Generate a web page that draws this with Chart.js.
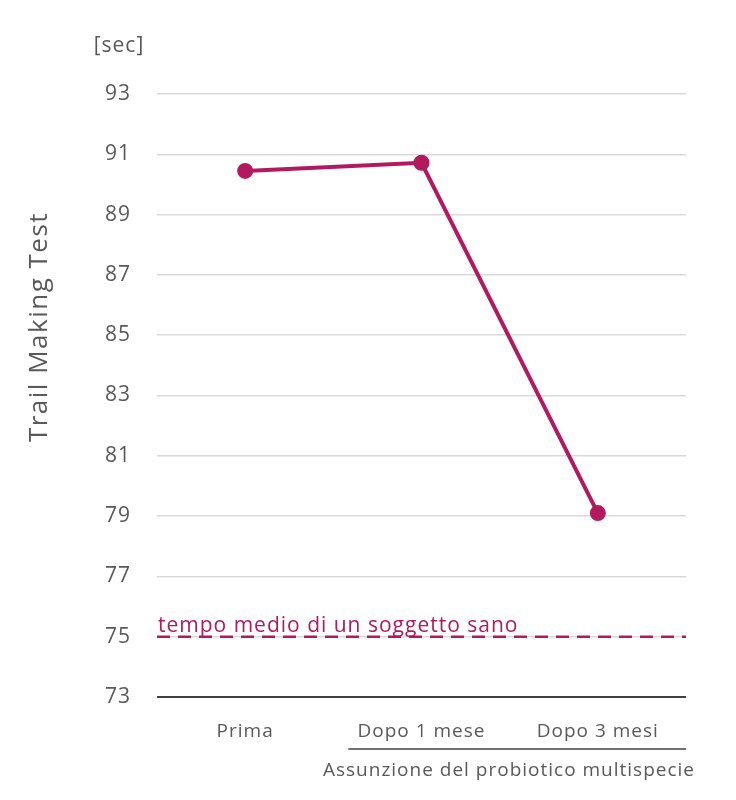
<!DOCTYPE html>
<html>
<head>
<meta charset="utf-8">
<script src="https://cdn.jsdelivr.net/npm/chart.js@4/dist/chart.umd.min.js"></script>
<style>
  html, body { margin: 0; padding: 0; background: #fff; }
  #wrap { width: 736px; height: 800px; }
</style>
</head>
<body>
<div id="wrap"><canvas id="c" width="736" height="800"></canvas></div>
<script>
  // ── Data ──────────────────────────────────────────
  var CATEGORIES = ['Prima', 'Dopo 1 mese', 'Dopo 3 mesi'];
  var TMT_VALUES = [90.45, 90.72, 79.1];
  var REF_VALUE = 75;
  var REF_LABEL = 'tempo medio di un soggetto sano';
  var Y_MIN = 73, Y_MAX = 93, Y_STEP = 2;
  var Y_TITLE = 'Trail Making Test';
  var Y_UNIT = '[sec]';
  var GROUP_LABEL = 'Assunzione del probiotico multispecie';

  var MAGENTA = '#B2195E';
  var TEXT = '#595959';
  var FONT = '"Open Sans", "Noto Sans", sans-serif';

  // wider letter spacing, closer to the original Office font
  var spacing = {
    id: 'spacing',
    beforeDraw: function (chart) { chart.ctx.letterSpacing = '1px'; }
  };

  // extra drawing: unit, y title, reference line, group bracket
  var extras = {
    id: 'extras',
    afterDraw: function (chart) {
      var ctx = chart.ctx;
      var area = chart.chartArea;
      var y = chart.scales.y;
      var x = chart.scales.x;
      ctx.save();
      ctx.letterSpacing = '1px';

      // reference line
      var ry = y.getPixelForValue(REF_VALUE);
      ctx.strokeStyle = MAGENTA;
      ctx.lineWidth = 2.5;
      ctx.setLineDash([13, 8]);
      ctx.beginPath();
      ctx.moveTo(area.left, ry);
      ctx.lineTo(area.right, ry);
      ctx.stroke();
      ctx.setLineDash([]);

      ctx.fillStyle = MAGENTA;
      ctx.font = '21px ' + FONT;
      ctx.textAlign = 'left';
      ctx.textBaseline = 'alphabetic';
      ctx.fillText(REF_LABEL, area.left + 1, ry - 5);

      // unit
      ctx.fillStyle = TEXT;
      ctx.font = '21px ' + FONT;
      ctx.textAlign = 'center';
      ctx.textBaseline = 'middle';
      ctx.fillText(Y_UNIT, 119, 46);

      // y title
      ctx.save();
      ctx.letterSpacing = '1.5px';
      ctx.translate(40, 327);
      ctx.rotate(-Math.PI / 2);
      ctx.font = '26px ' + FONT;
      ctx.fillText(Y_TITLE, 0, 0);
      ctx.restore();

      // bracket under months
      var x1 = (x.getPixelForValue(0) + x.getPixelForValue(1)) / 2 + 15;
      ctx.strokeStyle = '#404040';
      ctx.lineWidth = 1.5;
      ctx.beginPath();
      ctx.moveTo(x1, 749);
      ctx.lineTo(area.right, 749);
      ctx.stroke();

      ctx.font = '19px ' + FONT;
      ctx.fillStyle = TEXT;
      ctx.fillText(GROUP_LABEL, 509, 771);

      ctx.restore();
    }
  };

  new Chart(document.getElementById('c'), {
    type: 'line',
    data: {
      labels: CATEGORIES,
      datasets: [{
        data: TMT_VALUES,
        borderColor: MAGENTA,
        backgroundColor: MAGENTA,
        borderWidth: 4,
        pointRadius: 6,
        pointHoverRadius: 6,
        tension: 0,
        fill: false
      }]
    },
    options: {
      responsive: false,
      animation: false,
      layout: { padding: { top: 94, right: 50, left: 0, bottom: 0 } },
      plugins: { legend: { display: false }, tooltip: { enabled: false } },
      scales: {
        x: {
          offset: true,
          grid: { display: false, drawTicks: false },
          border: { display: false },
          ticks: { color: TEXT, font: { family: FONT, size: 19 }, padding: 23, maxRotation: 0 },
          afterFit: function (s) { s.height = 103; }
        },
        y: {
          min: Y_MIN,
          max: Y_MAX,
          border: { display: false },
          grid: {
            drawTicks: false,
            color: function (c) { return c.tick && c.tick.value === Y_MIN ? '#404040' : '#D9D9D9'; },
            lineWidth: function (c) { return c.tick && c.tick.value === Y_MIN ? 2 : 1.5; }
          },
          ticks: { stepSize: Y_STEP, color: TEXT, font: { family: FONT, size: 21 }, padding: 26 },
          afterFit: function (s) { s.width = 157; }
        }
      }
    },
    plugins: [spacing, extras]
  });
</script>
</body>
</html>
